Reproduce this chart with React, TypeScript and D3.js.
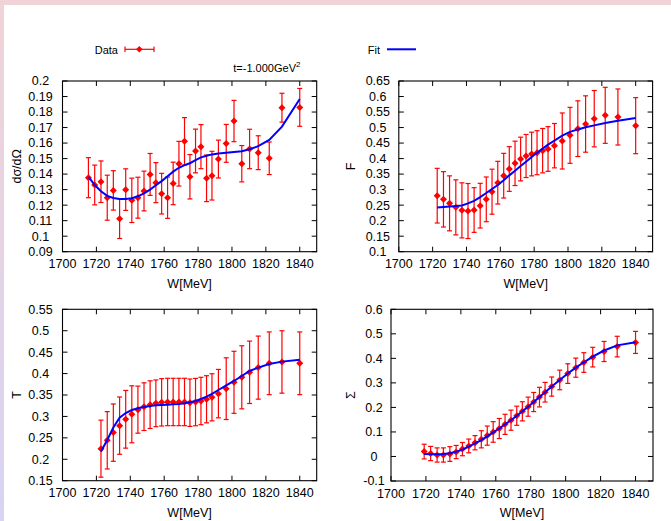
import React from "react";
import * as d3 from "d3";

// W grid [MeV] shared by all four observables
const W = [1715.3, 1719.0, 1722.7, 1726.4, 1730.0, 1733.7, 1737.3, 1740.9, 1744.5, 1748.1, 1751.7, 1755.1, 1758.5, 1762.0, 1765.3, 1768.7, 1772.0, 1775.2, 1778.5, 1781.7, 1785.0, 1788.2, 1792.0, 1796.6, 1801.2, 1805.8, 1810.4, 1815.5, 1822.0, 1829.5, 1840.0];

const dsigVal = [0.1377, 0.1330, 0.1351, 0.1248, 0.1295, 0.1113, 0.1300, 0.1231, 0.1248, 0.1291, 0.1398, 0.1345, 0.1274, 0.1248, 0.1340, 0.1467, 0.1611, 0.1383, 0.1549, 0.1577, 0.1373, 0.1390, 0.1497, 0.1598, 0.1742, 0.1467, 0.1562, 0.1538, 0.1502, 0.1828, 0.1830];
const dsigErr = [0.0129, 0.0128, 0.0134, 0.0145, 0.0127, 0.0128, 0.0134, 0.0143, 0.0132, 0.0128, 0.0135, 0.0129, 0.0131, 0.0133, 0.0137, 0.0144, 0.0153, 0.0143, 0.0141, 0.0142, 0.0150, 0.0157, 0.0122, 0.0122, 0.0133, 0.0117, 0.0127, 0.0109, 0.0105, 0.0093, 0.0122];
const dsigFit = [0.1383, 0.1330, 0.1290, 0.1260, 0.1246, 0.1240, 0.1240, 0.1244, 0.1257, 0.1276, 0.1300, 0.1328, 0.1355, 0.1386, 0.1416, 0.1441, 0.1458, 0.1470, 0.1490, 0.1508, 0.1518, 0.1527, 0.1533, 0.1538, 0.1542, 0.1547, 0.1560, 0.1580, 0.1620, 0.1706, 0.1884];

const fVal = [0.2805, 0.2687, 0.2558, 0.2429, 0.2332, 0.2311, 0.2343, 0.2483, 0.2687, 0.2934, 0.3224, 0.3449, 0.3664, 0.3847, 0.3986, 0.4083, 0.4147, 0.4190, 0.4255, 0.4309, 0.4416, 0.4567, 0.4749, 0.4964, 0.5114, 0.5286, 0.5394, 0.5340, 0.5061];
const fErr = [0.0881, 0.0892, 0.0886, 0.0886, 0.0887, 0.0887, 0.0720, 0.0720, 0.0720, 0.0725, 0.0688, 0.0720, 0.0720, 0.0715, 0.0704, 0.0693, 0.0704, 0.0709, 0.0715, 0.0720, 0.0715, 0.0903, 0.0902, 0.0897, 0.0908, 0.0908, 0.0903, 0.0903, 0.0903];
const fFit = [0.2425, 0.2440, 0.2455, 0.2470, 0.2490, 0.2555, 0.2640, 0.2760, 0.2890, 0.3020, 0.3150, 0.3300, 0.3460, 0.3610, 0.3760, 0.3900, 0.4050, 0.4190, 0.4320, 0.4450, 0.4580, 0.4740, 0.4860, 0.4940, 0.5010, 0.5070, 0.5145, 0.5220, 0.5310];

const tVal = [0.2248, 0.2443, 0.2622, 0.2785, 0.2933, 0.3050, 0.3158, 0.3228, 0.3275, 0.3306, 0.3329, 0.3337, 0.3337, 0.3337, 0.3337, 0.3320, 0.3335, 0.3360, 0.3400, 0.3446, 0.3532, 0.3648, 0.3796, 0.3913, 0.4030, 0.4139, 0.4240, 0.4271, 0.4240];
const tErr = [0.0665, 0.0669, 0.0669, 0.0669, 0.0673, 0.0665, 0.0549, 0.0556, 0.0556, 0.0545, 0.0553, 0.0553, 0.0553, 0.0553, 0.0553, 0.0553, 0.0553, 0.0553, 0.0550, 0.0550, 0.0565, 0.0720, 0.0724, 0.0736, 0.0728, 0.0736, 0.0732, 0.0728, 0.0732];
const tFit = [0.2180, 0.2450, 0.2740, 0.2970, 0.3080, 0.3150, 0.3190, 0.3220, 0.3244, 0.3260, 0.3267, 0.3275, 0.3283, 0.3290, 0.3306, 0.3330, 0.3360, 0.3407, 0.3462, 0.3524, 0.3617, 0.3726, 0.3827, 0.3944, 0.4060, 0.4140, 0.4224, 0.4279, 0.4325];

const sVal = [0.020, 0.012, 0.006, 0.006, 0.010, 0.018, 0.030, 0.043, 0.056, 0.070, 0.085, 0.100, 0.114, 0.131, 0.148, 0.166, 0.184, 0.203, 0.222, 0.242, 0.262, 0.285, 0.312, 0.338, 0.362, 0.383, 0.405, 0.428, 0.448, 0.465];
const sErr = [0.030, 0.029, 0.029, 0.029, 0.030, 0.027, 0.027, 0.028, 0.029, 0.035, 0.039, 0.042, 0.041, 0.041, 0.041, 0.039, 0.039, 0.039, 0.039, 0.040, 0.040, 0.039, 0.040, 0.040, 0.039, 0.040, 0.040, 0.041, 0.042, 0.045];
const sFit = [0.010, 0.009, 0.009, 0.010, 0.013, 0.019, 0.028, 0.040, 0.053, 0.067, 0.082, 0.098, 0.114, 0.131, 0.148, 0.166, 0.184, 0.203, 0.222, 0.242, 0.262, 0.285, 0.312, 0.338, 0.362, 0.384, 0.407, 0.432, 0.453, 0.466];

const xTicks = [1700, 1720, 1740, 1760, 1780, 1800, 1820, 1840];
const xLabel = "W[MeV]";
const title = "t=-1.000GeV";

const FONT = "'Liberation Sans', Arial, Helvetica, sans-serif";
const RED = "#ff0000";
const BLUE = "#0000ff";

const panels = [
  { name: "dσ/dΩ", w: W, val: dsigVal, err: dsigErr, fit: dsigFit, dom: [0.09, 0.2], step: 0.01,
    box: [62.5, 316.7, 81, 251.7], nameX: 17, labOff: 22 },
  { name: "F", w: W.slice(2), val: fVal, err: fErr, fit: fFit, dom: [0.1, 0.65], step: 0.05,
    box: [398.8, 652.6, 81, 251.7], nameX: 351, labOff: 21 },
  { name: "T", w: W.slice(2), val: tVal, err: tErr, fit: tFit, dom: [0.15, 0.55], step: 0.05,
    box: [62.5, 316.7, 309.3, 480.7], nameX: 17, labOff: 22 },
  { name: "Σ", w: W.slice(1), val: sVal, err: sErr, fit: sFit, dom: [-0.1, 0.6], step: 0.1,
    box: [391, 653, 309.3, 481], nameX: 351, labOff: 17 },
];

function Panel({ p }: { p: any }) {
  const [l, r, t, b] = p.box;
  const x = d3.scaleLinear().domain([1700, 1850]).range([l, r]);
  const y = d3.scaleLinear().domain(p.dom).range([b, t]);
  const n = Math.round((p.dom[1] - p.dom[0]) / p.step);
  const yTicks = d3.range(n + 1).map((i) => +(p.dom[0] + i * p.step).toFixed(2));
  const line = d3.line<number>().x((_, i) => x(p.w[i])).y((d) => y(d));
  const tl = 5;
  return (
    <g>
      {yTicks.map((v) => (
        <g key={"y" + v}>
          <line x1={l} x2={l + tl} y1={y(v)} y2={y(v)} stroke="#000" />
          <line x1={r} x2={r - tl} y1={y(v)} y2={y(v)} stroke="#000" />
          <text x={l - p.labOff} y={y(v)} dy="0.35em" textAnchor="middle" fontSize={12.5}>
            {String(v)}
          </text>
        </g>
      ))}
      {xTicks.map((v) => (
        <g key={"x" + v}>
          <line x1={x(v)} x2={x(v)} y1={b} y2={b - tl} stroke="#000" />
          <line x1={x(v)} x2={x(v)} y1={t} y2={t + tl} stroke="#000" />
          <text x={x(v)} y={b + 16.5} textAnchor="middle" fontSize={12.5}>
            {v}
          </text>
        </g>
      ))}
      <rect x={l} y={t} width={r - l} height={b - t} fill="none" stroke="#000" strokeWidth={1.1} />
      <text x={(l + r) / 2} y={b + 36} textAnchor="middle" fontSize={12.5}>
        {xLabel}
      </text>
      <text transform={`translate(${p.nameX},${(t + b) / 2}) rotate(-90)`} dy="0.35em" textAnchor="middle" fontSize={12.5}>
        {p.name}
      </text>
      {p.val.map((v: number, i: number) => {
        const cx = x(p.w[i]);
        const y1 = y(v + p.err[i]);
        const y2 = y(v - p.err[i]);
        const cy = y(v);
        return (
          <g key={"p" + i}>
            <line x1={cx} x2={cx} y1={y1} y2={y2} stroke={RED} strokeWidth={1.2} />
            <line x1={cx - 2.5} x2={cx + 2.5} y1={y1} y2={y1} stroke={RED} strokeWidth={1.2} />
            <line x1={cx - 2.5} x2={cx + 2.5} y1={y2} y2={y2} stroke={RED} strokeWidth={1.2} />
            <path d={`M${cx},${cy - 3.5}L${cx + 3.5},${cy}L${cx},${cy + 3.5}L${cx - 3.5},${cy}Z`} fill={RED} />
          </g>
        );
      })}
      <path d={line(p.fit) || ""} fill="none" stroke={BLUE} strokeWidth={2} />
    </g>
  );
}

export default function App() {
  return (
    <svg width={671} height={521} style={{ position: "absolute", left: 0, top: 0 }} fontFamily={FONT}>
      <defs>
        <linearGradient id="bg" x1="0" y1="0" x2="0" y2="1">
          <stop offset="0" stopColor="#f1d3d7" />
          <stop offset="1" stopColor="#d8d3f4" />
        </linearGradient>
      </defs>
      <rect width={671} height={521} fill="url(#bg)" />
      <rect x={4} y={5} width={667} height={516} fill="#fff" />
      {/* legend */}
      <text x={118} y={53.5} textAnchor="end" fontSize={11}>Data</text>
      <line x1={125} x2={154} y1={49.3} y2={49.3} stroke={RED} strokeWidth={1.2} />
      <line x1={125} x2={125} y1={46.5} y2={52} stroke={RED} strokeWidth={1.2} />
      <line x1={154} x2={154} y1={46.5} y2={52} stroke={RED} strokeWidth={1.2} />
      <path d="M139.3,46L142.6,49.3L139.3,52.6L136,49.3Z" fill={RED} />
      <text x={380} y={53.5} textAnchor="end" fontSize={11}>Fit</text>
      <line x1={387} x2={416} y1={49.3} y2={49.3} stroke={BLUE} strokeWidth={2} />
      <text x={233.3} y={71.5} fontSize={11}>
        {title}
        <tspan dy={-5} fontSize={8}>2</tspan>
      </text>
      {panels.map((p, i) => (
        <Panel key={i} p={p} />
      ))}
    </svg>
  );
}
